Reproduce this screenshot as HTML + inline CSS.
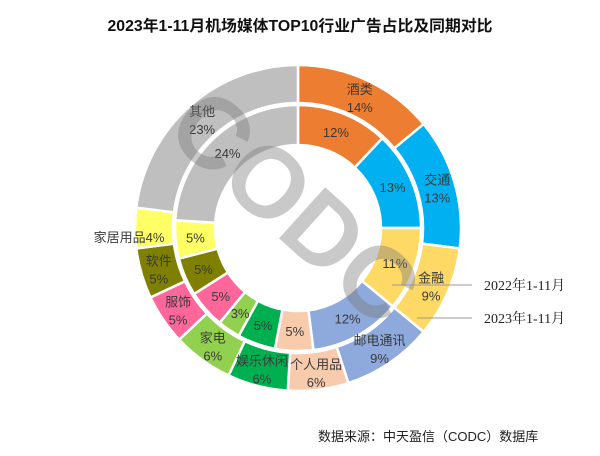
<!DOCTYPE html>
<html><head><meta charset="utf-8">
<style>
body{margin:0;background:#fff;}
svg{display:block;font-family:"Liberation Sans","Noto Sans CJK SC",sans-serif;}
</style></head>
<body>
<svg id="chart" width="600" height="456" viewBox="0 0 600 456">
<rect width="600" height="456" fill="#fff"/>
<text x="300" y="31" text-anchor="middle" font-size="15.5" font-weight="bold" fill="#111" textLength="385" lengthAdjust="spacingAndGlyphs">2023年1-11月机场媒体TOP10行业广告占比及同期对比</text>
<g id="rings"></g>
<g id="labels"></g>
<g opacity="0.4">
<text x="0" y="0" transform="translate(272,232) rotate(42)" text-anchor="middle" font-size="100" font-weight="bold" fill="#7a7a7a">CODC</text>
</g>
<line x1="392" y1="285" x2="472" y2="285" stroke="#999" stroke-width="1"/>
<line x1="417" y1="318" x2="472" y2="318" stroke="#999" stroke-width="1"/>
<text x="484" y="290" font-family="Liberation Serif,Noto Serif CJK SC,serif" font-size="14" fill="#222">2022年1-11月</text>
<text x="484" y="323" font-family="Liberation Serif,Noto Serif CJK SC,serif" font-size="14" fill="#222">2023年1-11月</text>
<text x="318" y="441" font-size="13" fill="#222">数据来源：中天盈信（CODC）数据库</text>
</svg>
<script>
const categories = ["酒类","交通","金融","邮电通讯","个人用品","娱乐休闲","家电","服饰","软件","家居用品","其他"];
const values2023 = [14,13,9,9,6,6,6,5,5,4,23];
const values2022 = [12,13,11,12,5,5,3,5,5,5,24];
const colors = ["#ED7D31","#00B0F0","#FFD966","#8EA9DB","#F8CBAD","#00B050","#92D050","#FF6699","#7F7F00","#FFFF66","#BFBFBF"];
const cx=298, cy=228;
const NS="http://www.w3.org/2000/svg";
const rings=document.getElementById('rings'), labels=document.getElementById('labels');
function pt(r,a){return [cx+r*Math.sin(a), cy-r*Math.cos(a)];}
function arc(r0,r1,a0,a1){
  const [x0,y0]=pt(r1,a0),[x1,y1]=pt(r1,a1),[x2,y2]=pt(r0,a1),[x3,y3]=pt(r0,a0);
  const lg=(a1-a0)>Math.PI?1:0;
  return `M${x0},${y0}A${r1},${r1} 0 ${lg} 1 ${x1},${y1}L${x2},${y2}A${r0},${r0} 0 ${lg} 0 ${x3},${y3}Z`;
}
function txt(x,y,s,size,name){
  const t=document.createElementNS(NS,'text');
  t.setAttribute('x',x);t.setAttribute('y',y);t.setAttribute('text-anchor','middle');
  t.setAttribute('font-size',size);t.setAttribute('fill','#3a3a3a');
  
  
  t.textContent=s;labels.appendChild(t);
}
function ring(vals,r0,r1,key,outer){
  const tot=vals.reduce((a,b)=>a+b,0);let a=0;
  vals.forEach((v,i)=>{
    const a0=a/tot*2*Math.PI, a1=(a+v)/tot*2*Math.PI; a+=v;
    const p=document.createElementNS(NS,'path');
    p.setAttribute('d',arc(r0,r1,a0,a1));
    p.setAttribute('fill',colors[i]);p.setAttribute('stroke','#fff');p.setAttribute('stroke-width','2.5');
    
    
    rings.appendChild(p);
    const m=(a0+a1)/2;
    if(outer){
      if(categories[i]==="家居用品"){const [x,y]=pt(145,m);txt(x-24,y+14,categories[i]+v+"%",13,'outer-label');}
      else{const [x,y]=pt(145,m);txt(x,y-3,categories[i],13,'outer-label');txt(x,y+15,v+"%",13,'outer-value');}
    } else {const [x,y]=pt(103,m);txt(x,y+5,v+"%",13,'inner-value');}
  });
}
ring(values2023,125,163,'outer-2023',true);
ring(values2022,83,123,'inner-2022',false);
</script>
</body></html>
